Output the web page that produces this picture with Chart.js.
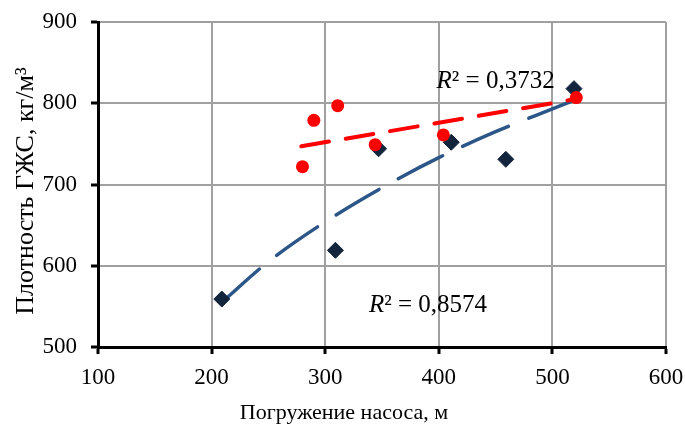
<!DOCTYPE html>
<html>
<head>
<meta charset="utf-8">
<script src="https://cdn.jsdelivr.net/npm/chart.js@4.4.1/dist/chart.umd.min.js"></script>
<style>
    html, body { margin: 0; padding: 0; background: #fff; }
    #wrap { width: 685px; height: 425px; }
</style>
</head>
<body>
<div id="wrap"><canvas id="densityChart" width="685" height="425"></canvas></div>
<script>
// Measured points: pump depth (m) -> fluid density (kg/m3)
const blackX = [209, 309, 347, 411, 459, 519];
const blackY = [559, 619, 744, 752, 731, 818];
const redX = [280, 290, 311, 344, 404, 521];
const redY = [722, 779, 797, 749, 761, 807];

// Trend lines
const blueTrendX = [209, 250, 300, 350, 400, 450, 500, 520];
const blueTrendY = [555, 605, 654, 696, 733, 765, 793, 804];
const redTrendX = [279, 400, 520];
const redTrendY = [747, 776, 805];

const xTicks = [100, 200, 300, 400, 500, 600];
const yTicks = [500, 600, 700, 800, 900];

const serif = "'Liberation Serif', 'Times New Roman', serif";

function toPoints(xs, ys) {
    return xs.map((x, i) => ({ x: x, y: ys[i] }));
}

// Draw "R² = ..." with italic R
function drawR2(ctx, text, px, py) {
    ctx.font = 'italic 25px ' + serif;
    ctx.fillText('R', px, py);
    const w = ctx.measureText('R').width;
    ctx.font = '25px ' + serif;
    ctx.fillText(text, px + w, py);
}

const textPlugin = {
    id: 'chartTexts',
    afterDraw(chart) {
        const ctx = chart.ctx;
        const xs = chart.scales.x;
        const ys = chart.scales.y;
        ctx.save();
        ctx.fillStyle = '#000';
        ctx.textBaseline = 'alphabetic';

        // R² labels
        ctx.textAlign = 'left';
        drawR2(ctx, '² = 0,3732', xs.getPixelForValue(398), ys.getPixelForValue(819));
        drawR2(ctx, '² = 0,8574', xs.getPixelForValue(338.5), ys.getPixelForValue(543));

        // axis titles
        ctx.font = '22px ' + serif;
        ctx.textAlign = 'center';
        ctx.fillText('Погружение насоса, м', 344, 419);
        ctx.font = '26px ' + serif;
        ctx.translate(33, 191);
        ctx.rotate(-Math.PI / 2);
        ctx.fillText('Плотность ГЖС, кг/м³', 0, 0);
        ctx.restore();
    }
};

document.addEventListener('DOMContentLoaded', function() {
    const ctx = document.getElementById('densityChart').getContext('2d');
    new Chart(ctx, {
        type: 'scatter',
        data: {
            datasets: [
                {
                    data: toPoints(redX, redY),
                    pointStyle: 'circle',
                    pointRadius: 6.5,
                    backgroundColor: '#ff0000',
                    borderColor: '#ff0000',
                    borderWidth: 0
                },
                {
                    data: toPoints(blackX, blackY),
                    pointStyle: 'rectRot',
                    pointRadius: 8,
                    backgroundColor: '#13243d',
                    borderColor: '#13243d',
                    borderWidth: 1
                },
                {
                    type: 'line',
                    data: toPoints(redTrendX, redTrendY),
                    borderColor: '#ff0000',
                    borderWidth: 4,
                    borderDash: [28, 17],
                    borderCapStyle: 'round',
                    pointRadius: 0,
                    fill: false
                },
                {
                    type: 'line',
                    data: toPoints(blueTrendX, blueTrendY),
                    borderColor: '#2c5688',
                    borderWidth: 3.5,
                    borderDash: [50, 22],
                    borderCapStyle: 'round',
                    cubicInterpolationMode: 'monotone',
                    pointRadius: 0,
                    fill: false
                }
            ]
        },
        options: {
            responsive: false,
            animation: false,
            events: [],
            layout: { padding: { top: 22, right: 19, left: 0, bottom: 0 } },
            plugins: {
                legend: { display: false },
                tooltip: { enabled: false }
            },
            scales: {
                x: {
                    type: 'linear',
                    min: 100,
                    max: 600,
                    afterBuildTicks: function(scale) {
                        scale.ticks = xTicks.map(v => ({ value: v }));
                    },
                    afterFit: function(scale) {
                        scale.height = 78;
                        scale.paddingLeft = 0;
                        scale.paddingRight = 0;
                    },
                    ticks: {
                        font: { family: serif, size: 23 },
                        color: '#000',
                        padding: 10,
                        maxRotation: 0
                    },
                    grid: {
                        color: '#a0a0a0',
                        lineWidth: 2,
                        tickColor: '#000',
                        tickLength: 7,
                        tickWidth: 3
                    },
                    border: { color: '#000', width: 3 }
                },
                y: {
                    type: 'linear',
                    min: 500,
                    max: 900,
                    afterBuildTicks: function(scale) {
                        scale.ticks = yTicks.map(v => ({ value: v }));
                    },
                    afterFit: function(scale) {
                        scale.width = 98;
                        scale.paddingTop = 0;
                        scale.paddingBottom = 0;
                    },
                    ticks: {
                        font: { family: serif, size: 23 },
                        color: '#000',
                        padding: 14
                    },
                    grid: {
                        color: '#a0a0a0',
                        lineWidth: 2,
                        tickColor: '#000',
                        tickLength: 7,
                        tickWidth: 3
                    },
                    border: { color: '#000', width: 3 }
                }
            }
        },
        plugins: [textPlugin]
    });
});
</script>
</body>
</html>
